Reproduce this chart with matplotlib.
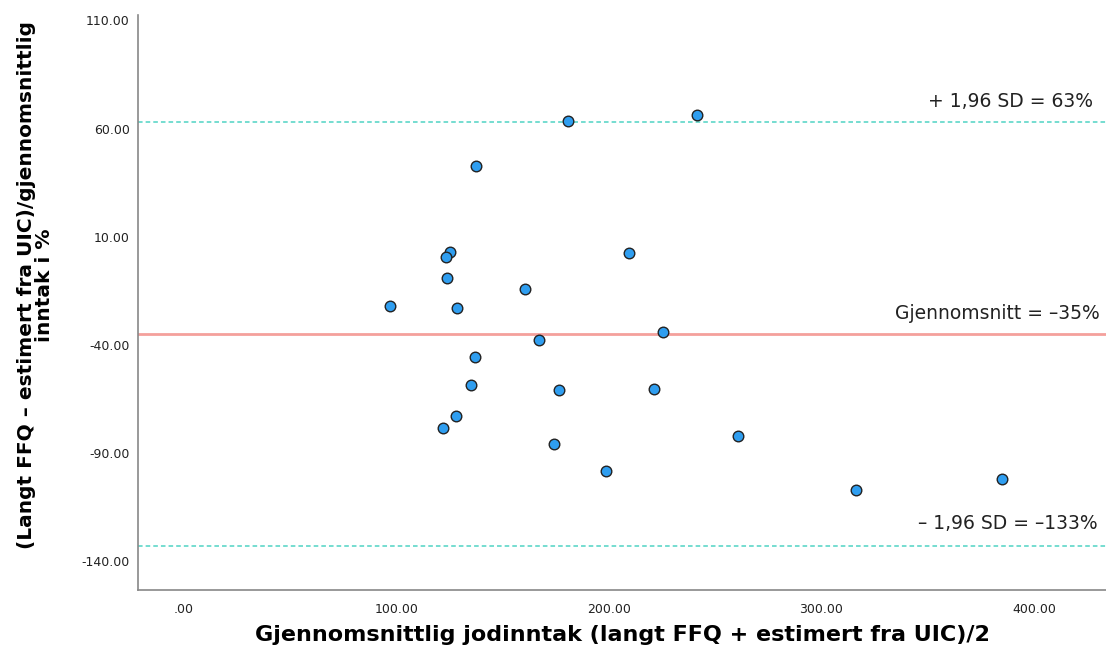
import numpy as np
import matplotlib
matplotlib.use("Agg")
import matplotlib.pyplot as plt

# Mean intake (x) and relative difference in % (y)
mean_intake = [180.8, 241.6, 137.6, 125.3, 123.2, 209.6, 123.9, 160.6, 97.1,
               128.3, 225.6, 167.2, 136.8, 134.9, 176.3, 221.2, 128.0, 121.9,
               174.3, 260.7, 198.6, 316.2, 385.1]
diff_pct = [63.6, 66.2, 42.8, 2.8, 0.8, 2.4, -9.1, -14.2, -21.9,
            -23.1, -33.8, -37.8, -45.5, -58.4, -60.7, -60.6, -73.0, -78.2,
            -85.7, -81.9, -98.4, -107.2, -102.1]

mean_diff = -35
upper_loa = 63
lower_loa = -133

x_ticks = [0, 100, 200, 300, 400]
x_tick_labels = [".00", "100.00", "200.00", "300.00", "400.00"]
y_ticks = [110, 60, 10, -40, -90, -140]
y_tick_labels = ["110.00", "60.00", "10.00", "-40.00", "-90.00", "-140.00"]

fig = plt.figure(figsize=(11.06, 6.55), dpi=100)
ax = fig.add_axes([0.1248, 0.0992, 0.8752, 0.8779])

# reference lines
ax.axhline(upper_loa, color="#4fd3c4", lw=1.1, ls=(0, (3, 2)), zorder=1)
ax.axhline(lower_loa, color="#4fd3c4", lw=1.1, ls=(0, (3, 2)), zorder=1)
ax.axhline(mean_diff, color="#f4a09c", lw=2, zorder=1)

ax.scatter(mean_intake, diff_pct, s=58, color="#2f9ef0", edgecolors="#222222",
           linewidths=1.0, zorder=3)

# labels on the lines
trans = ax.get_yaxis_transform()
ax.text(0.987, upper_loa + 5, "+ 1,96 SD = 63%", transform=trans,
        ha="right", va="bottom", fontsize=13.5, color="#222222")
ax.text(0.994, mean_diff + 5, "Gjennomsnitt = \u201335%", transform=trans,
        ha="right", va="bottom", fontsize=13.5, color="#222222")
ax.text(0.991, lower_loa + 6, "\u2013 1,96 SD = \u2013133%", transform=trans,
        ha="right", va="bottom", fontsize=13.5, color="#222222")

ax.set_xlim(-21.6, 433.9)
ax.set_ylim(-153.3, 112.5)
ax.set_xticks(x_ticks)
ax.set_xticklabels(x_tick_labels)
ax.set_yticks(y_ticks)
ax.set_yticklabels(y_tick_labels)
ax.tick_params(length=0, labelsize=9, colors="#222222")
ax.tick_params(axis="y", pad=6)
ax.tick_params(axis="x", pad=9)

for side in ["top", "right"]:
    ax.spines[side].set_visible(False)
for side in ["left", "bottom"]:
    ax.spines[side].set_color("#888888")
    ax.spines[side].set_linewidth(1.2)

ax.set_xlabel("Gjennomsnittlig jodinntak (langt FFQ + estimert fra UIC)/2",
              fontsize=16, fontweight="bold", labelpad=7)
ax.set_ylabel("(Langt FFQ \u2013 estimert fra UIC)/gjennomsnittlig\ninntak i %",
              fontsize=14.5, fontweight="bold", linespacing=0.95)
ax.yaxis.set_label_coords(-0.087, 0.53)

fig.savefig("out.png", dpi=100)
